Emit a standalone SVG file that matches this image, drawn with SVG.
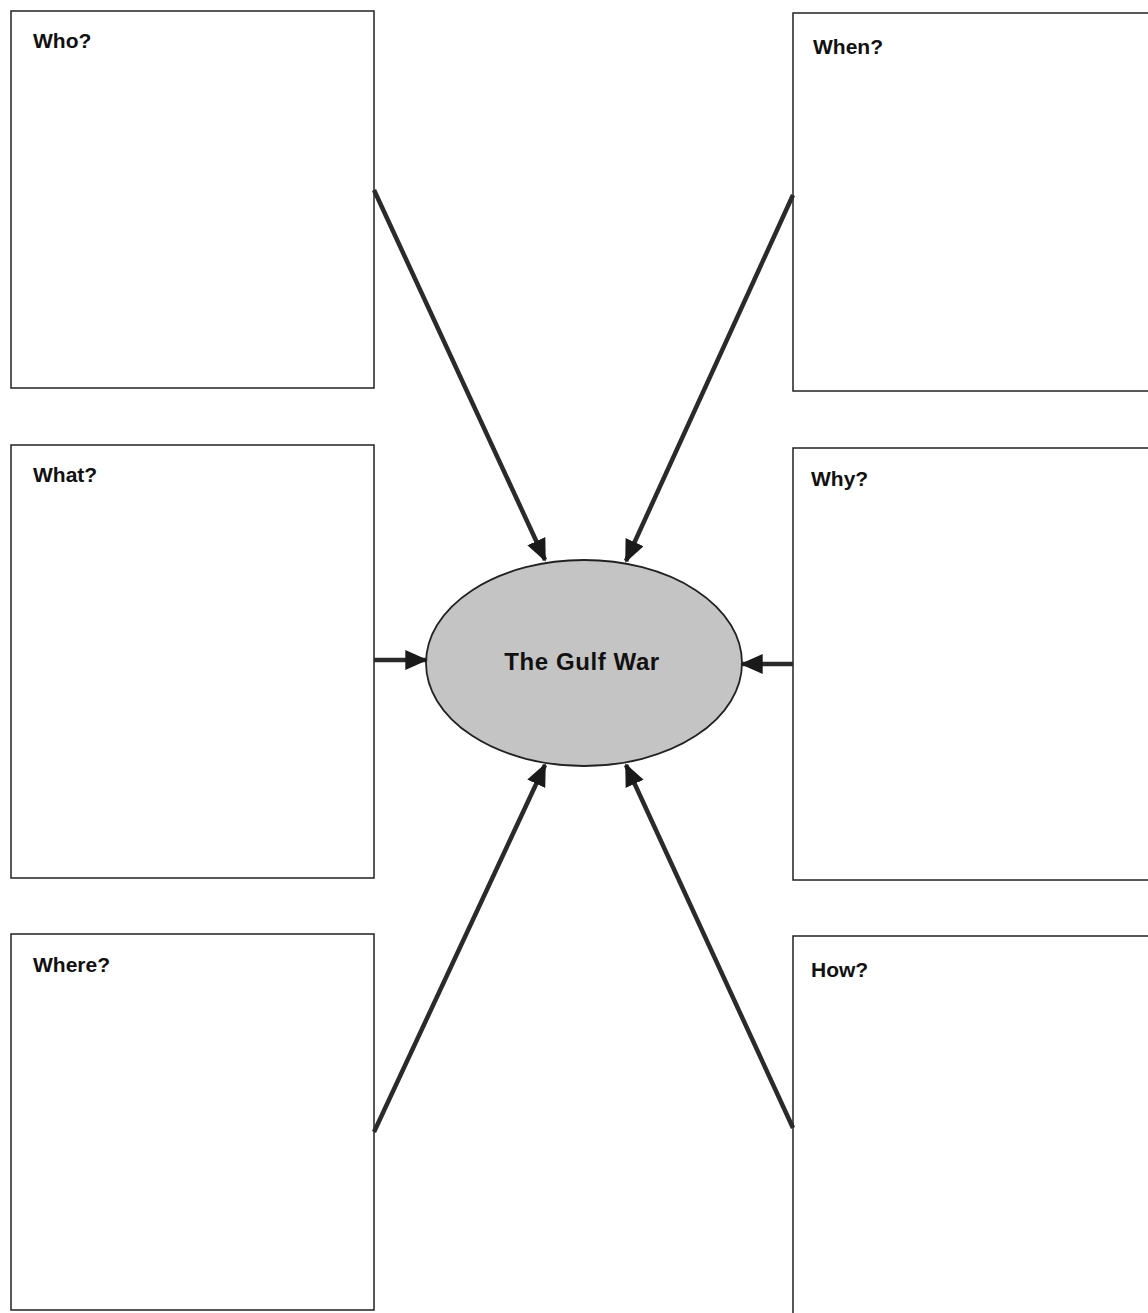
<svg xmlns="http://www.w3.org/2000/svg" width="1148" height="1313" viewBox="0 0 1148 1313">
<style>
.box{fill:#fff;stroke:#222;stroke-width:1.5}
.lbl{font-family:"Liberation Sans",Arial,sans-serif;font-weight:bold;font-size:21px;fill:#111}
.conn{stroke:#2a2a2a;stroke-width:4.5;fill:none;marker-end:url(#ah)}
</style>
<defs>
<marker id="ah" markerWidth="5" markerHeight="4.4" refX="4.6" refY="2.2" orient="auto" markerUnits="strokeWidth">
<path d="M0,0 L5,2.2 L0,4.4 Z" fill="#1a1a1a"/>
</marker>
</defs>
<rect width="1148" height="1313" fill="#fff"/>
<g id="who"><rect class="box" x="11" y="11" width="363" height="377"/><text class="lbl" x="33" y="48">Who?</text></g>
<g id="when"><rect class="box" x="793" y="13" width="360" height="378"/><text class="lbl" x="813" y="54">When?</text></g>
<g id="what"><rect class="box" x="11" y="445" width="363" height="433"/><text class="lbl" x="33" y="482">What?</text></g>
<g id="why"><rect class="box" x="793" y="448" width="360" height="432"/><text class="lbl" x="811" y="486">Why?</text></g>
<g id="where"><rect class="box" x="11" y="934" width="363" height="376"/><text class="lbl" x="33" y="972">Where?</text></g>
<g id="how"><rect class="box" x="793" y="936" width="360" height="380"/><text class="lbl" x="811" y="977">How?</text></g>
<g id="center"><ellipse cx="584" cy="663" rx="158" ry="103" fill="#c4c4c4" stroke="#222" stroke-width="1.8"/><text class="lbl" x="582" y="670" text-anchor="middle" style="font-size:24px;letter-spacing:0.6px">The Gulf War</text></g>
<g id="connectors">
<line class="conn" x1="374" y1="190" x2="545" y2="560"/>
<line class="conn" x1="793" y1="195" x2="626" y2="561"/>
<line class="conn" x1="374" y1="660" x2="426" y2="660"/>
<line class="conn" x1="793" y1="664" x2="742" y2="664"/>
<line class="conn" x1="374" y1="1132" x2="545" y2="765"/>
<line class="conn" x1="793" y1="1128" x2="626" y2="765"/>
</g>
</svg>
